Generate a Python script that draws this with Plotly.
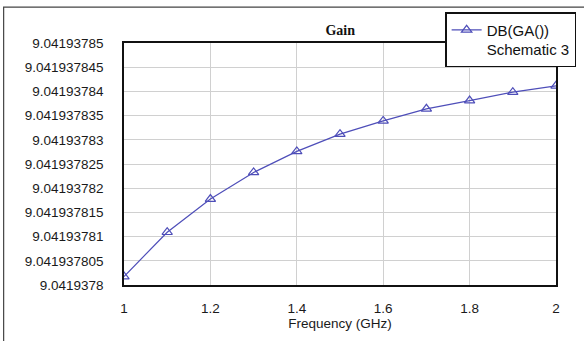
import plotly.graph_objects as go

freq = [1.0, 1.1, 1.2, 1.3, 1.4, 1.5, 1.6, 1.7, 1.8, 1.9, 2.0]
gain_db = [9.04193780175, 9.0419378109, 9.04193781776, 9.04193782326, 9.0419378276,
           9.04193783117, 9.0419378339, 9.0419378364, 9.0419378381, 9.04193783985,
           9.04193784115]

y_tickvals = [9.0419378, 9.041937805, 9.04193781, 9.041937815, 9.04193782, 9.041937825,
              9.04193783, 9.041937835, 9.04193784, 9.041937845, 9.04193785]
y_ticktext = ["9.0419378", "9.041937805", "9.04193781", "9.041937815", "9.04193782",
              "9.041937825", "9.04193783", "9.041937835", "9.04193784", "9.041937845",
              "9.04193785"]
x_tickvals = [1, 1.2, 1.4, 1.6, 1.8, 2]
x_ticktext = ["1", "1.2", "1.4", "1.6", "1.8", "2"]

series_name = "DB(GA())<br>Schematic 3"
title_text = "<b>Gain</b>"
x_title = "Frequency (GHz)"

W, H = 584, 341
L, R, T, B = 123.5, 28, 43, 55.5
pw = W - L - R
ph = H - T - B

def px_to_paper_x(px):
    return (px - L) / pw

def px_to_paper_y(py):
    return (H - B - py) / ph

line_col = "rgb(78,78,185)"

fig = go.Figure()
fig.add_trace(go.Scatter(
    x=freq, y=gain_db, mode="lines+markers", name=series_name,
    line=dict(color=line_col, width=1.2),
    marker=dict(symbol="triangle-up-open", size=9, color=line_col, line=dict(width=1.2)),
    showlegend=True,
))

fig.update_layout(
    width=W, height=H,
    margin=dict(l=L, r=R, t=T, b=B, pad=0, autoexpand=False),
    paper_bgcolor="white", plot_bgcolor="white",
    font=dict(family="Arial, Liberation Sans, sans-serif", color="#1a1a1a", size=13.5),
    title=dict(text=title_text, x=px_to_paper_x(340), xref="paper", xanchor="center",
               y=1 - 30 / H, yanchor="middle",
               font=dict(family="Liberation Serif, Times New Roman, serif", size=14, color="#111")),
    showlegend=True,
    legend=dict(x=px_to_paper_x(445), y=px_to_paper_y(12), xanchor="left", yanchor="top",
                bgcolor="white", bordercolor="#111", borderwidth=1.5,
                font=dict(size=15, color="#111"), valign="top",
                itemwidth=30, tracegroupgap=0),
    xaxis=dict(range=[1, 2], tickvals=x_tickvals, ticktext=x_ticktext,
               showgrid=True, gridcolor="#d0d0d0", gridwidth=1,
               showline=True, linecolor="#111", linewidth=1.5, mirror=True,
               ticks="", ticklabelstandoff=10, zeroline=False,
               title=dict(text=x_title, standoff=4, font=dict(size=13.5)),
               tickfont=dict(size=13.5)),
    yaxis=dict(range=[y_tickvals[0], y_tickvals[-1]], tickvals=y_tickvals, ticktext=y_ticktext,
               showgrid=True, gridcolor="#d0d0d0", gridwidth=1,
               showline=True, linecolor="#111", linewidth=1.5, mirror=True,
               ticks="", ticklabelstandoff=16, zeroline=False,
               tickfont=dict(size=13.5)),
)

# outer frame of the original chart window (partly clipped by the image edge)
fig.add_shape(type="rect", xref="paper", yref="paper",
              x0=px_to_paper_x(3), x1=px_to_paper_x(700),
              y0=px_to_paper_y(400), y1=px_to_paper_y(7),
              line=dict(color="#444", width=1.2), fillcolor="rgba(0,0,0,0)", layer="below")

fig.write_html("out.html")
